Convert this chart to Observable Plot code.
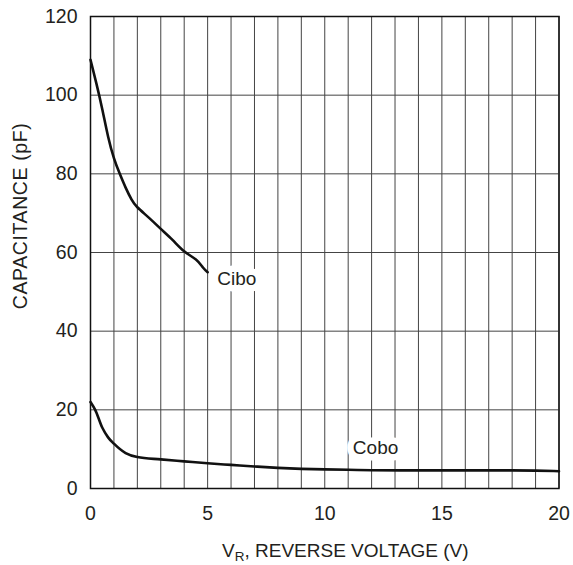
<!DOCTYPE html>
<html>
<head>
<meta charset="utf-8">
<script src="https://cdn.jsdelivr.net/npm/d3@7"></script>
<script src="https://cdn.jsdelivr.net/npm/@observablehq/plot@0.6"></script>
<style>
  html, body { margin: 0; padding: 0; background: #fff; }
  svg { display: block; }
</style>
</head>
<body>
<div id="chart"></div>
<script>
// Reverse voltage (V) and capacitance (pF)
const ciboV = [0, 0.25, 0.5, 0.75, 1, 1.25, 1.5, 1.75, 2, 2.5, 3, 3.5, 4, 4.5, 4.8, 5];
const ciboC = [109, 103, 96.5, 89.5, 84, 80, 76.5, 73.5, 71.5, 68.8, 66, 63.2, 60.3, 58.2, 56.2, 55];

const coboV = [0, 0.2, 0.5, 0.75, 1, 1.5, 2, 3, 4, 5, 6, 7, 8, 9, 10, 11, 12, 14, 16, 18, 19, 20];
const coboC = [22, 20, 15.5, 13, 11.4, 9, 8, 7.4, 6.9, 6.4, 6, 5.6, 5.25, 5, 4.85, 4.75, 4.65, 4.6, 4.6, 4.6, 4.55, 4.4];

const xTicks = [0, 5, 10, 15, 20];
const yTicks = [0, 20, 40, 60, 80, 100, 120];
const xGrid = [0,1,2,3,4,5,6,7,8,9,10,11,12,13,14,15,16,17,18,19,20];
const yGrid = [0, 20, 40, 60, 80, 100, 120];

const labelNames = ["Cibo", "Cobo"];
const labelV = [5.41, 11.2];
const labelC = [53.4, 10.2];

const cibo = ciboV.map((v, i) => ({v, c: ciboC[i]}));
const cobo = coboV.map((v, i) => ({v, c: coboC[i]}));
const labels = labelNames.map((t, i) => ({t, v: labelV[i], c: labelC[i]}));

const FONT = "'Liberation Sans', Arial, Helvetica, sans-serif";
const INK = "#231f20";
const TICK_FS = 19.5;

const svg = Plot.plot({
  width: 573,
  height: 565,
  marginLeft: 90,
  marginRight: 14.5,
  marginTop: 16,
  marginBottom: 77,
  x: {domain: [0, 20]},
  y: {domain: [0, 120]},
  style: {fontFamily: FONT, fontSize: TICK_FS + "px", color: INK, background: "#fff"},
  marks: [
    Plot.ruleX(xGrid, {stroke: "#444", strokeWidth: 1}),
    Plot.ruleY(yGrid, {stroke: "#444", strokeWidth: 1}),
    Plot.text(labels, {x: "v", y: "c", text: "t", textAnchor: "start", fontSize: 19,
      fill: "white", stroke: "white", strokeWidth: 13, strokeLinejoin: "round"}),
    Plot.text(labels, {x: "v", y: "c", text: "t", textAnchor: "start", fontSize: 19, fill: INK}),
    Plot.line(cibo, {x: "v", y: "c", stroke: "#111", strokeWidth: 2.6, curve: "natural"}),
    Plot.line(cobo, {x: "v", y: "c", stroke: "#111", strokeWidth: 2.6, curve: "monotone-x"}),
    Plot.frame({stroke: "#111", strokeWidth: 1.5}),
    Plot.axisX({ticks: xTicks, tickSize: 0, tickPadding: 18, label: null, fontSize: TICK_FS}),
    Plot.axisY({ticks: yTicks, tickSize: 0, tickPadding: 13, label: null, fontSize: TICK_FS})
  ]
});

const s = d3.select(svg);
// x axis title with subscript
const xt = s.append("text")
  .attr("x", 222).attr("y", 557)
  .attr("text-anchor", "start")
  .attr("font-family", FONT).attr("font-size", 19).attr("fill", INK);
xt.append("tspan").text("V");
xt.append("tspan").attr("font-size", 13.5).attr("dy", 4).text("R");
xt.append("tspan").attr("dy", -4).text(", REVERSE VOLTAGE (V)");

// y axis title
s.append("text")
  .attr("transform", "translate(27,216) rotate(-90)")
  .attr("text-anchor", "middle")
  .attr("font-family", FONT).attr("font-size", 19.5).attr("letter-spacing", 0.6)
  .attr("fill", INK)
  .text("CAPACITANCE (pF)");

document.getElementById("chart").appendChild(svg);
</script>
</body>
</html>
